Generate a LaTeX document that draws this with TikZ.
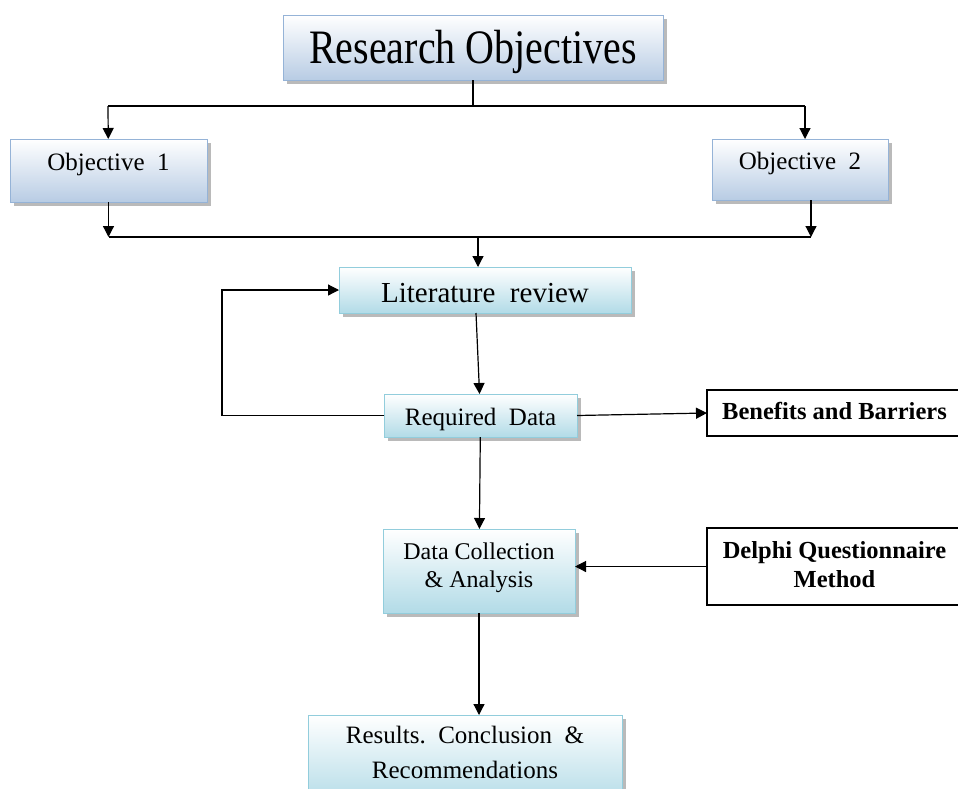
\documentclass[tikz,border=0pt]{standalone}
\usepackage{fontspec}
\setmainfont{Liberation Serif}
\usetikzlibrary{arrows.meta,shadows}
\definecolor{blueface}{RGB}{184,204,228}
\definecolor{blueline}{RGB}{149,179,215}
\definecolor{cyanface}{RGB}{178,219,231}
\definecolor{cyanline}{RGB}{146,205,220}
\begin{document}
\begin{tikzpicture}[x=1pt,y=-1pt,
  box/.style={draw=blueline, line width=1pt, top color=white, bottom color=blueface, drop shadow={shadow xshift=4pt, shadow yshift=-4pt, fill=black!45, opacity=0.6}, inner sep=0pt, outer sep=0pt, align=center},
  cyanbox/.style={box, draw=cyanline, bottom color=cyanface},
  plainbox/.style={draw=black, line width=1.1pt, fill=white, inner sep=0pt, outer sep=0pt, align=center},
  arr/.style={line width=1.2pt, -{Triangle[length=11pt,width=11pt]}},
  ln/.style={line width=1.2pt}]
\useasboundingbox (0,0) rectangle (958,788);
\node[box, minimum width=380pt, minimum height=65pt, text height=32pt, text depth=0pt, font=\fontsize{40}{44}\selectfont] (resobj) at (473,47.5) {\scalebox{1}[1.2]{Research Objectives}};
\node[box, minimum width=197pt, minimum height=63pt, text height=17pt, text depth=17pt, font=\fontsize{25}{28}\selectfont] (obj1) at (108.5,170.5) {Objective\ \ 1};
\node[box, minimum width=176pt, minimum height=61pt, text height=17pt, text depth=17pt, font=\fontsize{25}{28}\selectfont] (obj2) at (800,169.5) {Objective\ \ 2};
\node[cyanbox, minimum width=292pt, minimum height=46pt, text height=24pt, text depth=0pt, font=\fontsize{29}{32}\selectfont] (litrev) at (485,290) {Literature\ \ review};
\node[cyanbox, minimum width=193pt, minimum height=43pt, text height=19pt, text depth=0pt, font=\fontsize{25}{28}\selectfont] (reqdata) at (480.5,415.5) {Required\ \ Data};
\node[cyanbox, minimum width=192pt, minimum height=84pt, font=\fontsize{24}{28}\selectfont] (datacoll) at (479,571) {\rule{0pt}{17pt}Data Collection\\\& Analysis\rule[-13pt]{0pt}{0pt}};
\node[cyanbox, minimum width=314pt, minimum height=90pt, font=\fontsize{25}{35}\selectfont] (results) at (465,760) {\rule{0pt}{17pt}Results.\ \ Conclusion\ \ \&\\Recommendations\rule[-16pt]{0pt}{0pt}};
\node[plainbox, minimum width=255pt, minimum height=46pt, text height=16pt, text depth=4pt, font=\fontsize{24.5}{28}\selectfont\bfseries] (benefits) at (834.5,413) {Benefits and Barriers};
\node[plainbox, minimum width=255pt, minimum height=77pt, font=\fontsize{24.5}{29}\selectfont\bfseries] (delphi) at (834.5,566.5) {\rule{0pt}{17pt}Delphi Questionnaire\\Method\rule[-5pt]{0pt}{0pt}};
\coordinate (topbar) at (474,106);
\coordinate (botbar) at (478,237);
\coordinate (loop) at (222,0);
\draw[ln] (resobj) -- (resobj |- topbar);
\draw[ln] (108,106) -- (805,106);
\draw[arr] (108,106) -- (obj1);
\draw[arr] (805,106) -- (805,139);
\draw[arr] (obj1.south) -- (obj1.south |- botbar);
\draw[arr] (811,200) -- (811,237);
\draw[ln] (obj1.south |- botbar) -- (811,237);
\draw[arr] (botbar) -- (botbar |- litrev.north);
\draw[arr] (476,313) -- (reqdata);
\draw[arr] (reqdata.west) -- (reqdata.west -| loop) |- (litrev.west);
\draw[arr] (reqdata.east) -- (benefits.west);
\draw[arr] (reqdata) -- (datacoll);
\draw[arr] (delphi.west) -- (delphi.west -| datacoll.east);
\draw[arr] (datacoll) -- (datacoll |- results.north);
\end{tikzpicture}
\end{document}
